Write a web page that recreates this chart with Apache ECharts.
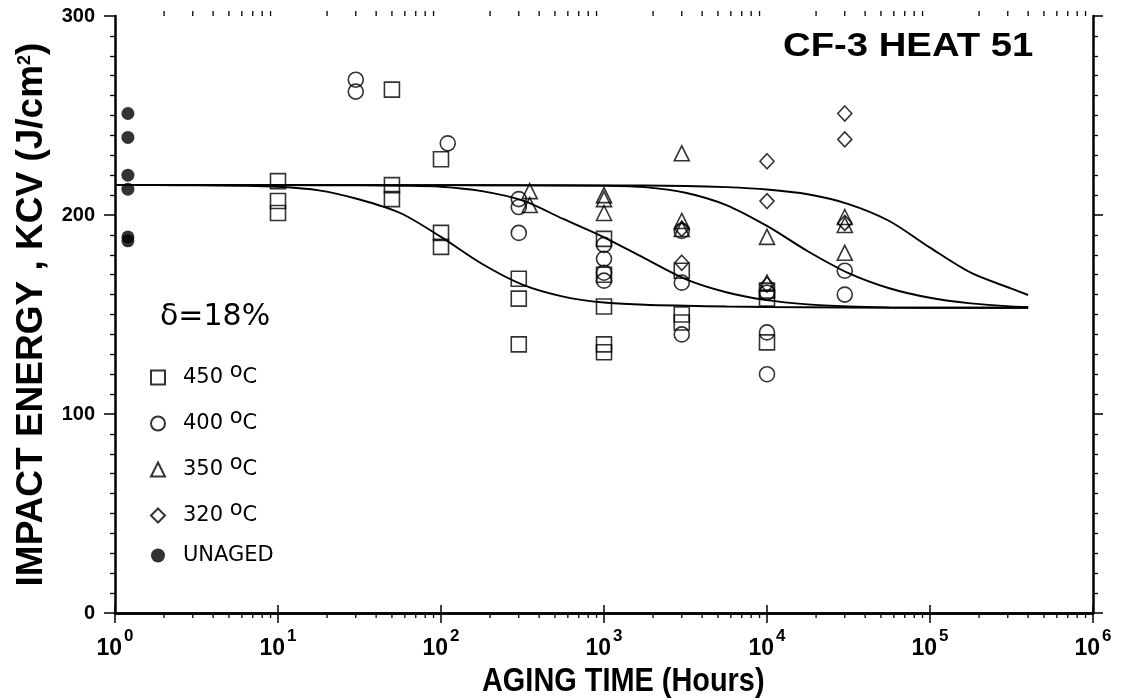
<!DOCTYPE html>
<html>
<head>
<meta charset="utf-8">
<script src="https://cdn.jsdelivr.net/npm/echarts@6/dist/echarts.min.js"></script>
<style>html,body{margin:0;padding:0;background:#fff}#c{width:1122px;height:700px}</style>
</head>
<body>
<div id="c"></div>
<script>
// ---- data ----
const xTickExponents = [0, 1, 2, 3, 4, 5, 6];
const yTicks = [0, 100, 200, 300];

const unaged = [[1.2, 251], [1.2, 239], [1.2, 220], [1.2, 213], [1.2, 189], [1.2, 187]];

const t450 = [
  [10, 217], [10, 207], [10, 201],
  [50, 263], [50, 215], [50, 208],
  [100, 228], [100, 191], [100, 184],
  [300, 168], [300, 158], [300, 135],
  [1000, 188], [1000, 170], [1000, 154], [1000, 135], [1000, 131],
  [3000, 172], [3000, 150], [3000, 146],
  [10000, 162], [10000, 158], [10000, 136]
];
const t400 = [
  [30, 268], [30, 262], [110, 236],
  [300, 208], [300, 204], [300, 191],
  [1000, 185], [1000, 178], [1000, 171], [1000, 167],
  [3000, 192], [3000, 166], [3000, 140],
  [10000, 161], [10000, 141], [10000, 120],
  [30000, 172], [30000, 160]
];
const t350 = [
  [350, 212], [350, 205],
  [1000, 210], [1000, 208], [1000, 201],
  [3000, 231], [3000, 197], [3000, 193],
  [10000, 189], [10000, 166],
  [30000, 199], [30000, 195], [30000, 181]
];
const t320 = [
  [3000, 193], [3000, 176],
  [10000, 227], [10000, 207], [10000, 165],
  [30000, 251], [30000, 238], [30000, 196]
];

// fitted curves, read at quarter-decade steps
const curve450 = [[1, 215], [1.78, 215], [3.16, 214.9], [5.62, 214.7], [10, 214.2], [17.8, 212.4], [31.6, 207.8], [56.2, 201], [100, 189], [178, 175.5], [316, 165], [562, 159], [1000, 156], [1778, 154.9], [3162, 154.4], [5623, 154], [10000, 153.8], [31623, 153.5], [100000, 153.4], [400000, 153.4]];
const curve400 = [[1, 215], [10, 215], [31.6, 214.9], [56.2, 214.7], [100, 214.2], [178, 212], [316, 207.3], [562, 198], [1000, 188.8], [1778, 178.2], [3162, 167.8], [5623, 161.2], [10000, 157.2], [17783, 155.1], [31623, 154.1], [56234, 153.6], [100000, 153.4], [400000, 153.4]];
const curve350 = [[1, 215], [100, 215], [316, 214.9], [1000, 214.7], [1778, 214], [3162, 211.2], [5623, 205], [10000, 194.5], [17783, 181.8], [31623, 170.8], [56234, 163.2], [100000, 158.4], [177828, 155.6], [316228, 154.1], [400000, 153.8]];
const curve320 = [[1, 215], [100, 215], [1000, 214.9], [3162, 214.6], [5623, 214], [10000, 212.8], [17783, 210.4], [31623, 205.5], [56234, 197], [100000, 183.6], [177828, 171], [316228, 163], [400000, 159.8]];

const legendNames = ['450', '400', '350', '320', 'UNAGED'];

// minor tick positions on the log axis (2..9 in each decade)
const minorX = [];
for (let e = 0; e < 6; e++) for (let m = 2; m <= 9; m++) minorX.push([m * Math.pow(10, e), 0]);

const BLACK = '#000';
const FONT = 'Liberation Sans, Arial, sans-serif';
const LFONT = 'DejaVu Sans, sans-serif';

const chart = echarts.init(document.getElementById('c'), null, {renderer: 'canvas'});

function markerSeries(name, data, symbol, size) {
  return {
    name: name, type: 'scatter', data: data, symbol: symbol, symbolSize: size,
    itemStyle: {color: 'rgba(255,255,255,0)', borderColor: BLACK, borderWidth: 1.6},
    z: 5
  };
}
function curveSeries(data) {
  return {
    type: 'line', data: data, showSymbol: false, smooth: 0.3, silent: true,
    lineStyle: {color: BLACK, width: 1.9}, z: 3
  };
}

const option = {
  backgroundColor: '#fff',
  animation: false,
  grid: {left: 115, right: 29, top: 16, bottom: 87},
  xAxis: [{
    type: 'log', logBase: 10, min: 1, max: 1e6, interval: 1,
    axisLine: {lineStyle: {color: BLACK, width: 2.5}},
    axisTick: {inside: false, length: 10, lineStyle: {color: BLACK, width: 1.5}},
    splitLine: {show: false},
    axisLabel: {
      margin: 15, color: BLACK,
      formatter: function (v) {
        const e = Math.round(Math.log10(v));
        return '{b|10}{e|' + e + '}';
      },
      rich: {
        b: {fontFamily: FONT, fontWeight: 'bold', fontSize: 23, color: BLACK, verticalAlign: 'bottom'},
        e: {fontFamily: FONT, fontWeight: 'bold', fontSize: 17, color: BLACK, verticalAlign: 'bottom', padding: [0, 0, 15, 2]}
      }
    }
  }, {
    type: 'log', logBase: 10, min: 1, max: 1e6, interval: 1, position: 'top',
    axisLine: {lineStyle: {color: BLACK, width: 2.5}},
    axisTick: {inside: false, length: 8, lineStyle: {color: BLACK, width: 1.5}},
    axisLabel: {show: false}, splitLine: {show: false}
  }],
  yAxis: [{
    type: 'value', min: 0, max: 300, interval: 100,
    name: 'IMPACT ENERGY , KCV (J/cm{s|2})',
    nameLocation: 'middle', nameRotate: 90, nameGap: 64,
    nameTextStyle: {
      fontFamily: FONT, fontWeight: 'bold', fontSize: 37, color: BLACK,
      rich: {s: {fontFamily: FONT, fontWeight: 'bold', fontSize: 18, color: BLACK, verticalAlign: 'bottom', padding: [0, 0, 17, 0]}}
    },
    axisLine: {show: true, lineStyle: {color: BLACK, width: 2.5}},
    axisTick: {show: true, inside: false, length: 11, lineStyle: {color: BLACK, width: 1.5}},
    minorTick: {show: true, splitNumber: 10, length: 5, lineStyle: {color: BLACK, width: 1.3}},
    splitLine: {show: false},
    axisLabel: {margin: 20, color: BLACK, fontFamily: FONT, fontWeight: 'bold', fontSize: 20}
  }, {
    type: 'value', min: 0, max: 300, interval: 100, position: 'right',
    axisLine: {show: true, lineStyle: {color: BLACK, width: 2.5}},
    axisTick: {show: true, inside: false, length: 10, lineStyle: {color: BLACK, width: 1.5}},
    minorTick: {show: true, splitNumber: 10, length: 5, lineStyle: {color: BLACK, width: 1.3}},
    splitLine: {show: false}, axisLabel: {show: false}
  }],
  legend: {
    data: legendNames,
    orient: 'vertical', left: 150, top: 361, padding: 0,
    itemWidth: 14, itemHeight: 14, itemGap: 19,
    formatter: function (n) { return n === 'UNAGED' ? 'UNAGED' : n + ' {s|o}C'; },
    textStyle: {
      fontFamily: LFONT, fontSize: 21, color: BLACK, padding: [0, 0, 0, 13],
      rich: {s: {fontFamily: LFONT, fontSize: 21, color: BLACK, verticalAlign: 'bottom', padding: [0, 0, 12, 0]}}
    },
    selectedMode: false
  },
  graphic: [
    {type: 'text', x: 783, y: 30, scaleX: 1.16, style: {text: 'CF-3 HEAT 51', fontFamily: FONT, fontSize: 33, fontWeight: 'bold', fill: BLACK}},
    {type: 'text', left: 160, top: 302, style: {text: 'δ=18%', fontFamily: LFONT, fontSize: 30, fill: BLACK}},
    {type: 'text', x: 482, y: 665, scaleX: 0.85, style: {text: 'AGING TIME (Hours)', fontFamily: FONT, fontSize: 34, fontWeight: 'bold', fill: BLACK}}
  ],
  series: [
    curveSeries(curve450), curveSeries(curve400), curveSeries(curve350), curveSeries(curve320),
    markerSeries('450', t450, 'rect', 15),
    markerSeries('400', t400, 'circle', 15),
    markerSeries('350', t350, 'triangle', 15),
    markerSeries('320', t320, 'diamond', [14, 15]),
    {name: 'UNAGED', type: 'scatter', data: unaged, symbol: 'circle', symbolSize: 13, itemStyle: {color: BLACK}, z: 6},
    {
      type: 'custom', data: minorX, silent: true, clip: false, z: 2,
      renderItem: function (params, api) {
        const b = api.coord([api.value(0), 0]);
        const t = api.coord([api.value(0), 300]);
        return {type: 'group', children: [
          {type: 'line', shape: {x1: b[0], y1: b[1], x2: b[0], y2: b[1] + 5}, style: {stroke: BLACK, lineWidth: 1.3}},
          {type: 'line', shape: {x1: t[0], y1: t[1], x2: t[0], y2: t[1] - 5}, style: {stroke: BLACK, lineWidth: 1.3}}
        ]};
      }
    }
  ]
};
chart.setOption(option);
</script>
</body>
</html>
